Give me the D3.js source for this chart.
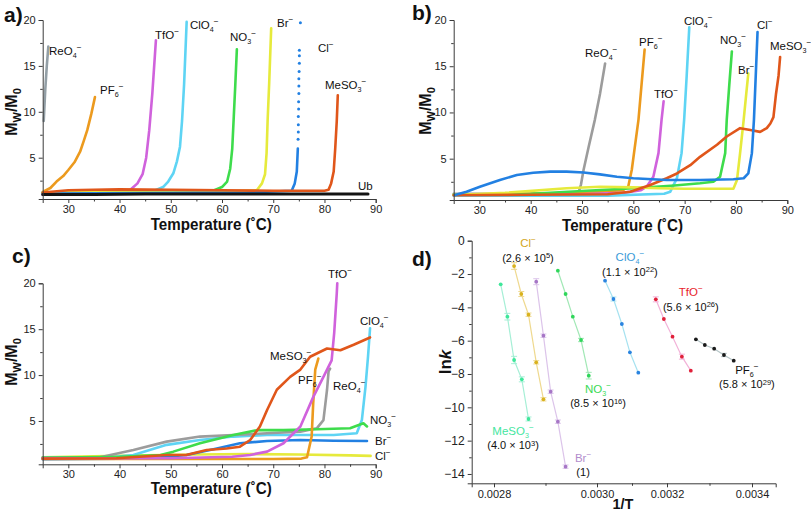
<!DOCTYPE html>
<html><head><meta charset="utf-8">
<script src="https://cdn.jsdelivr.net/npm/d3@7"></script>
<style>
body{margin:0;background:#fff}
text{font-family:"Liberation Sans",Arial,sans-serif}
</style>
</head><body><script>
// ---------- DATA ----------
const tempTicks = [30,40,50,60,70,80,90];
const tempMinor = [35,45,55,65,75,85];
const mwTicks = [5,10,15,20];
const mwMinor = [2.5,7.5,12.5,17.5];

// panel a : [T (°C), Mw/M0]
const a_ReO4 = [[25.2,9],[25.5,12.4],[25.8,15],[26.1,17.1]];
const a_PF6 = [[25.1,1.3],[26.5,1.7],[27.7,2.4],[29,3.0],[30,3.66],[31.2,4.5],[32.3,5.65],[33.0,6.8],[33.7,8.0],[34.5,9.8],[35.2,11.6]];
const a_TfO = [[25,1.0],[35,1.05],[40,1.15],[42,1.45],[43.5,2.2],[44.5,3.2],[45.2,5],[45.8,8],[46.4,12],[47.1,17.8]];
const a_ClO4 = [[25,1.2],[40,1.3],[47,1.45],[48.5,1.8],[49.5,2.4],[50.5,3.3],[51.2,4.6],[51.8,6.2],[52.2,9],[52.6,13],[53.1,19.8]];
const a_NO3 = [[25,1.2],[50,1.3],[58.5,1.45],[60,1.8],[61,2.4],[61.6,3.8],[62.0,6],[62.3,9.5],[62.6,13],[62.9,16.8]];
const a_Br = [[25,1.2],[60,1.3],[66.8,1.45],[67.8,2.2],[68.4,3.2],[68.7,5.5],[68.9,9],[69.2,13],[69.6,19.1]];
const a_Cl = [[25,1.1],[65,1.2],[73.6,1.4],[74.2,2.2],[74.6,3.5],[74.8,6]];
const a_ClDots = [[74.85,7],[74.9,7.8],[74.9,8.6],[74.9,9.5],[74.95,10.3],[74.95,11.1],[75.0,12],[75.0,12.8],[75.0,13.6],[75.05,14.4],[75.1,15.3],[75.1,16.1],[75.1,16.7],[75.3,19.7]];
const a_MeSO3 = [[25,1.2],[30,1.45],[35,1.5],[40,1.55],[50,1.5],[60,1.45],[70,1.4],[80,1.4],[80.8,1.5],[81.3,2.2],[81.8,3.5],[82.1,6],[82.4,9],[82.6,11.8]];
const a_Ub = [[25,1.0],[35,1.0],[45,1.05],[55,1.05],[65,1.05],[75,1.05],[85,1.05],[88.5,1.05]];

// panel b
const b_ReO4 = [[25,1.2],[45,1.2],[49.3,1.3],[49.8,2.2],[50.3,3.77],[51.3,6.3],[52.5,9.2],[53.5,12],[54.5,15.3]];
const b_PF6 = [[25,1.1],[50,1.3],[58,1.6],[59,1.97],[59.7,3.8],[60.3,6.3],[61,9.2],[61.6,13],[62.2,16.8]];
const b_TfO = [[25,1.05],[50,1.15],[58,1.3],[61.5,1.6],[62.6,1.97],[63.9,3.05],[64.9,5.6],[65.5,9.2],[65.9,11.2]];
const b_ClO4 = [[25,1.0],[55,1.0],[66,1.2],[67.2,1.43],[68.5,2.9],[69.4,5.6],[69.9,9.2],[70.4,14],[70.9,19.2]];
const b_NO3 = [[25,1.1],[40,1.2],[43.8,1.32],[50,1.5],[60,1.8],[68,2.1],[73,2.34],[75.6,2.5],[76.9,3.05],[77.9,5.6],[78.2,9.2],[78.7,13],[79.2,16.6]];
const b_Br = [[25,1.07],[35,1.3],[47,1.8],[53.5,1.97],[60,1.9],[65,1.8],[70,1.75],[79.5,1.75],[80.2,2.7],[80.8,5.6],[81.5,9.2],[82.0,12],[82.4,14.2]];
const b_Cl = [[25.25,1.07],[27.5,1.43],[30.1,1.97],[34,2.7],[37.3,3.23],[40.5,3.48],[43.8,3.6],[47,3.6],[50.3,3.5],[53.5,3.3],[56.8,3.05],[60,2.88],[66.5,2.7],[73,2.7],[79.5,2.77],[81.5,2.88],[82.4,3.4],[83.1,5.6],[83.5,9.2],[84.2,18.7]];
const b_MeSO3 = [[25,1.05],[40,1.1],[55,1.15],[59.4,1.43],[63.3,2.15],[66.5,2.88],[68.5,3.4],[71.1,4.3],[73,5.2],[76.3,6.5],[78.2,7.4],[80.8,8.3],[82.8,8.1],[84.7,7.9],[86,8.3],[86.7,8.8],[87.3,9.5],[87.8,12],[88.3,14],[88.6,16]];

// panel c
const c_Cl = [[25,1.05],[35,1.15],[45,1.25],[55,1.35],[65,1.4],[75,1.35],[85,1.25],[89,1.2]];
const c_Br = [[25,0.83],[40,0.9],[48,1.05],[53.1,1.3],[59,2.0],[63.5,2.57],[68.8,2.82],[75.3,2.93],[81.8,2.85],[88.3,2.82]];
const c_NO3 = [[25,1.0],[40,1.1],[48,1.3],[50.5,1.66],[55.7,2.57],[62.2,3.47],[66.8,4.0],[72,4.0],[78.5,4.1],[85,4.2],[87.6,4.75],[88.3,4.4]];
const c_ClO4 = [[25,1.0],[38,1.05],[42.7,1.3],[49.2,2.4],[55.7,2.93],[62.2,3.3],[68.8,3.47],[81.8,3.47],[86.3,3.66],[87.3,5.1],[88,8.7],[88.5,12],[88.9,15.1]];
const c_ReO4 = [[25,1.0],[36.2,1.05],[42.7,1.84],[49.2,2.75],[55.7,3.3],[62.2,3.47],[68.8,3.66],[75.3,3.84],[78.5,4.2],[79.8,5.1],[80.5,8.4],[80.8,10.4],[81.1,10.7]];
const c_PF6 = [[25,0.85],[50,0.85],[70,0.85],[75.5,0.9],[76.6,1.05],[77.5,3.3],[77.8,6.9],[78.2,10.6],[78.8,11.8]];
const c_TfO = [[25,0.94],[50,0.94],[62,1.1],[65.5,1.3],[68.8,1.66],[72,2.57],[75.3,4.4],[77.8,7.6],[79.8,9.8],[81.4,11.6],[81.9,14.6],[82.4,18.9],[82.5,20]];
const c_MeSO3 = [[25,0.9],[39.4,0.94],[49.2,1.3],[53,1.3],[57,1.84],[60.9,2.0],[63.5,2.2],[65.5,2.93],[67.4,4.4],[68.8,6.2],[70.7,8.4],[73.3,9.8],[75.3,10.6],[77.2,12],[80.5,12.9],[83.1,12.7],[85.7,13.3],[88.9,14.1]];

// panel d : 1/T and ln k
const invTTicks = [0.0028,0.0030,0.0032,0.0034];
const invTMinor = [0.0029,0.0031,0.0033];
const lnkTicks = [0,-2,-4,-6,-8,-10,-12,-14];
const lnkMinor = [-1,-3,-5,-7,-9,-11,-13];
const d_MeSO3_x = [0.002813,0.002826,0.002839,0.002854,0.002867];
const d_MeSO3_y = [-2.62,-4.56,-7.16,-8.32,-10.7];
const d_MeSO3_e = [0,0.2,0.22,0.15,0.12];
const d_Cl_x = [0.002839,0.002853,0.002867,0.002882,0.002896];
const d_Cl_y = [-1.52,-3.2,-4.44,-7.3,-9.52];
const d_Cl_e = [0.2,0.15,0.1,0.1,0.1];
const d_Br_x = [0.002882,0.002896,0.00291,0.002924,0.002939];
const d_Br_y = [-2.46,-5.7,-9.06,-10.86,-13.56];
const d_Br_e = [0.18,0.1,0.1,0.1,0.1];
const d_NO3_x = [0.002924,0.002939,0.002953,0.002969,0.002984];
const d_NO3_y = [-1.8,-3.2,-4.56,-5.96,-8.1];
const d_NO3_e = [0,0,0,0.1,0.2];
const d_ClO4_x = [0.003023,0.003047,0.003071,0.003094,0.003118];
const d_ClO4_y = [-2.4,-3.5,-5.0,-6.7,-7.92];
const d_ClO4_e = [0,0.12,0,0,0];
const d_TfO_x = [0.003168,0.003191,0.003213,0.003235,0.003256];
const d_TfO_y = [-3.52,-4.7,-5.76,-6.96,-7.8];
const d_TfO_e = [0.15,0,0,0.15,0];
const d_PF6_x = [0.003268,0.003289,0.003311,0.003334,0.003357];
const d_PF6_y = [-5.92,-6.26,-6.48,-6.86,-7.2];
const d_PF6_e = [0,0,0,0.1,0];

// ---------- STYLE ----------
const C = {ReO4:"#939fa6", PF6:"#ec9a1e", TfO:"#d062dc", ClO4:"#5ed4f4", NO3:"#3edc4c",
           Br:"#e6ea3c", Cl:"#2280e2", MeSO3:"#e0561a", Ub:"#141414"};
const W = 811, H = 512;
const svg = d3.select("body").append("svg").attr("width", W).attr("height", H);

function ion(g, x, y, base, sub, sup, color, size, anchor) {
  const t = g.append("text").attr("x", x).attr("y", y).attr("fill", color || "#111")
    .style("font-size", size + "px").attr("text-anchor", anchor || "start");
  t.append("tspan").text(base);
  if (sub) t.append("tspan").attr("dy", size * 0.28).style("font-size", (size * 0.62) + "px").text(sub);
  if (sup) t.append("tspan").attr("dy", sub ? -size * 0.72 : -size * 0.4).style("font-size", (size * 0.72) + "px").text(sup);
  return t;
}

function styleAxis(sel) {
  sel.selectAll("path,line").attr("stroke", "#3a3a3a").attr("stroke-width", 1);
  sel.selectAll("text").style("font-family", '"Liberation Sans",Arial,sans-serif').style("font-size", "11px").attr("fill", "#222");
}

function tempPanel(cfg) {
  const g = svg.append("g");
  const x = d3.scaleLinear().domain([25, 90]).range(cfg.xr);
  const y = d3.scaleLinear().domain(cfg.yd).range(cfg.yr);
  const line = d3.line().x(d => x(d[0])).y(d => y(d[1]));
  cfg.series.forEach(s => {
    g.append("path").datum(s.data).attr("d", line).attr("fill", "none")
      .attr("stroke", s.color).attr("stroke-width", s.w || 2.6)
      .attr("stroke-linejoin", "round").attr("stroke-linecap", "round");
  });
  if (cfg.dots) {
    g.selectAll("circle.dot").data(cfg.dots.data).join("circle")
      .attr("cx", d => x(d[0])).attr("cy", d => y(d[1])).attr("r", 1.5).attr("fill", cfg.dots.color);
  }
  const y0 = cfg.yr[0];
  const xa = g.append("g").attr("transform", `translate(0,${y0})`)
    .call(d3.axisBottom(x).tickValues(tempTicks).tickSize(4).tickPadding(2));
  styleAxis(xa);
  const xm = g.append("g").attr("transform", `translate(0,${y0})`)
    .call(d3.axisBottom(x).tickValues(tempMinor).tickSize(2.5).tickFormat(""));
  xm.select(".domain").remove(); styleAxis(xm);
  const ya = g.append("g").attr("transform", `translate(${cfg.xr[0]},0)`)
    .call(d3.axisLeft(y).tickValues(mwTicks).tickSize(4).tickPadding(3));
  styleAxis(ya);
  const ym = g.append("g").attr("transform", `translate(${cfg.xr[0]},0)`)
    .call(d3.axisLeft(y).tickValues(mwMinor).tickSize(2.5).tickFormat(""));
  ym.select(".domain").remove(); styleAxis(ym);
  const xc = (cfg.xr[0] + cfg.xr[1]) / 2 + 2;
  g.append("text").attr("x", xc).attr("y", cfg.xTitleY).attr("text-anchor", "middle")
    .style("font-size", "16.5px").style("font-weight", "bold").attr("fill", "#111")
    .attr("textLength", 121).attr("lengthAdjust", "spacingAndGlyphs").text("Temperature (\u02DAC)");
  const yt = g.append("text").attr("transform", `translate(${cfg.yTitleX},${cfg.yTitleY}) rotate(-90)`)
    .attr("text-anchor", "middle").style("font-size", "16px").style("font-weight", "bold").attr("fill", "#111");
  yt.append("tspan").text("M");
  yt.append("tspan").attr("dy", 4).style("font-size", "11px").text("W");
  yt.append("tspan").attr("dy", -4).text("/M");
  yt.append("tspan").attr("dy", 4).style("font-size", "11px").text("0");
  g.append("text").attr("x", cfg.letter[0]).attr("y", cfg.letter[1]).style("font-size", "21px")
    .style("font-weight", "bold").attr("fill", "#111").text(cfg.letter[2]);
  cfg.labels.forEach(l => ion(g, x(l.at[0]), y(l.at[1]), l.t[0], l.t[1], l.t[2], "#111", 11.5));
}

// ---------- PANEL a ----------
tempPanel({
  xr: [42.7, 375.7], yd: [0.5, 20], yr: [199, 20],
  xTitleY: 230, yTitleX: 17, yTitleY: 112, letter: [4, 22, "a)"],
  series: [
    {data: a_ReO4, color: C.ReO4}, {data: a_PF6, color: C.PF6}, {data: a_TfO, color: C.TfO},
    {data: a_ClO4, color: C.ClO4}, {data: a_NO3, color: C.NO3}, {data: a_Br, color: C.Br},
    {data: a_Cl, color: C.Cl}, {data: a_MeSO3, color: C.MeSO3}, {data: a_Ub, color: C.Ub, w: 3}
  ],
  dots: {data: a_ClDots, color: C.Cl},
  labels: [
    {t: ["ReO","4","\u2212"], at: [26.23, 16.19]}, {t: ["PF","6","\u2212"], at: [36.18, 11.94]},
    {t: ["TfO","","\u2212"], at: [46.92, 17.93]}, {t: ["ClO","4","\u2212"], at: [53.75, 19.02]},
    {t: ["NO","3","\u2212"], at: [61.56, 17.71]}, {t: ["Br","","\u2212"], at: [70.73, 19.24]},
    {t: ["Cl","","\u2212"], at: [78.73, 16.51]}, {t: ["MeSO","3","\u2212"], at: [80.1, 12.48]},
    {t: ["Ub","",""], at: [86.55, 1.48]}
  ]
});

// ---------- PANEL b ----------
tempPanel({
  xr: [453.7, 787.3], yd: [0.53, 20], yr: [200, 20],
  xTitleY: 231, yTitleX: 431, yTitleY: 111, letter: [412, 20, "b)"],
  series: [
    {data: b_ReO4, color: "#9c9c9c"}, {data: b_PF6, color: C.PF6}, {data: b_TfO, color: C.TfO},
    {data: b_ClO4, color: C.ClO4}, {data: b_NO3, color: C.NO3}, {data: b_Br, color: C.Br},
    {data: b_MeSO3, color: C.MeSO3}, {data: b_Cl, color: C.Cl}
  ],
  labels: [
    {t: ["ReO","4","\u2212"], at: [50.58, 16.0]}, {t: ["PF","6","\u2212"], at: [61.1, 17.19]},
    {t: ["TfO","","\u2212"], at: [64.02, 11.56]}, {t: ["ClO","4","\u2212"], at: [69.86, 19.46]},
    {t: ["NO","3","\u2212"], at: [76.88, 17.4]}, {t: ["Br","","\u2212"], at: [80.39, 14.16]},
    {t: ["Cl","","\u2212"], at: [84.09, 19.03]}, {t: ["MeSO","3","\u2212"], at: [86.62, 16.8]}
  ]
});

// ---------- PANEL c ----------
tempPanel({
  xr: [42.7, 375.7], yd: [0.28, 20], yr: [464.3, 283.3],
  xTitleY: 494, yTitleX: 17, yTitleY: 362, letter: [12, 263, "c)"],
  series: [
    {data: c_Cl, color: C.Br}, {data: c_ClO4, color: C.ClO4}, {data: c_ReO4, color: "#9c9c9c"},
    {data: c_NO3, color: C.NO3}, {data: c_Br, color: C.Cl}, {data: c_PF6, color: C.PF6},
    {data: c_TfO, color: C.TfO}, {data: c_MeSO3, color: C.MeSO3}
  ],
  labels: [
    {t: ["TfO","","\u2212"], at: [80.69, 20.57]}, {t: ["ClO","4","\u2212"], at: [86.94, 15.45]},
    {t: ["MeSO","3","\u2212"], at: [69.37, 11.64]}, {t: ["PF","6","\u2212"], at: [74.83, 9.03]},
    {t: ["ReO","4","\u2212"], at: [81.67, 8.37]}, {t: ["NO","3","\u2212"], at: [88.89, 4.67]},
    {t: ["Br","","\u2212"], at: [89.86, 2.38]}, {t: ["Cl","","\u2212"], at: [89.86, 0.75]}
  ]
});

// ---------- PANEL d ----------
(function () {
  const g = svg.append("g");
  const x = d3.scaleLinear().domain([0.002757, 0.0028, 0.0030, 0.0032, 0.0034, 0.003456])
    .range([471.7, 494, 597, 667, 752, 775.7]);
  const y = d3.scaleLinear().domain([-14.56, 0]).range([483.3, 240.7]);
  const series = [
    {x: d_MeSO3_x, y: d_MeSO3_y, e: d_MeSO3_e, line: "#a6efd6", pt: "#3ee79a", lab: ["MeSO","3","\u2212"], lc: "#45e6a0", k: ["4.0 \u00D7 10","3"], at: [0.002837, -11.66]},
    {x: d_Cl_x, y: d_Cl_y, e: d_Cl_e, line: "#efd98f", pt: "#d9b21e", lab: ["Cl","","\u2212"], lc: "#d2a51c", k: ["2.6 \u00D7 10","5"], at: [0.002866, -0.38]},
    {x: d_Br_x, y: d_Br_y, e: d_Br_e, line: "#dcc4ea", pt: "#a676c6", lab: ["Br","","\u2212"], lc: "#b28ccc", k: ["1",""], at: [0.002973, -13.28]},
    {x: d_NO3_x, y: d_NO3_y, e: d_NO3_e, line: "#a2e8b6", pt: "#2fd65a", lab: ["NO","3","\u2212"], lc: "#3ada55", k: ["8.5 \u00D7 10","16"], at: [0.003003, -9.13]},
    {x: d_ClO4_x, y: d_ClO4_y, e: d_ClO4_e, line: "#a6e2f0", pt: "#2a84e0", lab: ["ClO","4","\u2212"], lc: "#3a9ad8", k: ["1.1 \u00D7 10","22"], at: [0.003094, -1.22]},
    {x: d_TfO_x, y: d_TfO_y, e: d_TfO_e, line: "#f2b2d8", pt: "#e0203a", lab: ["TfO","","\u2212"], lc: "#e8242c", k: ["5.6 \u00D7 10","26"], at: [0.003256, -3.32]},
    {x: d_PF6_x, y: d_PF6_y, e: d_PF6_e, line: "#b6c6c8", pt: "#1a1a1a", lab: ["PF","6","\u2212"], lc: "#111", k: ["5.8 \u00D7 10","29"], at: [0.003388, -8.0]}
  ];
  const line = d3.line().x(d => x(d[0])).y(d => y(d[1]));
  series.forEach(s => {
    const pts = s.x.map((v, i) => [v, s.y[i], s.e[i]]);
    g.append("path").datum(pts).attr("d", line).attr("fill", "none").attr("stroke", s.line).attr("stroke-width", 1.2);
    pts.filter(p => p[2] > 0).forEach(p => {
      const px = x(p[0]);
      g.append("line").attr("x1", px).attr("x2", px).attr("y1", y(p[1] - p[2])).attr("y2", y(p[1] + p[2])).attr("stroke", s.line).attr("stroke-width", 1);
      [p[1] - p[2], p[1] + p[2]].forEach(v => g.append("line").attr("x1", px - 3).attr("x2", px + 3)
        .attr("y1", y(v)).attr("y2", y(v)).attr("stroke", s.line).attr("stroke-width", 1));
    });
    g.selectAll(null).data(pts).join("circle").attr("cx", d => x(d[0])).attr("cy", d => y(d[1]))
      .attr("r", 1.9).attr("fill", s.pt);
    const lx = x(s.at[0]), ly = y(s.at[1]);
    ion(g, lx, ly, s.lab[0], s.lab[1], s.lab[2], s.lc, 11.5, "middle");
    const kt = g.append("text").attr("x", lx).attr("y", ly + 14.5).attr("text-anchor", "middle")
      .style("font-size", "11px").attr("fill", "#111");
    kt.append("tspan").text("(" + s.k[0]);
    if (s.k[1]) kt.append("tspan").attr("dy", -3.5).style("font-size", "7.5px").text(s.k[1]);
    kt.append("tspan").attr("dy", s.k[1] ? 3.5 : 0).text(")");
  });
  const xa = g.append("g").attr("transform", "translate(0,483.3)")
    .call(d3.axisBottom(x).tickValues(invTTicks).tickSize(4).tickPadding(3).tickFormat(d3.format(".4f")));
  styleAxis(xa);
  const xm = g.append("g").attr("transform", "translate(0,483.3)")
    .call(d3.axisBottom(x).tickValues(invTMinor).tickSize(2.5).tickFormat(""));
  xm.select(".domain").remove(); styleAxis(xm);
  const ya = g.append("g").attr("transform", "translate(471.7,0)")
    .call(d3.axisLeft(y).tickValues(lnkTicks).tickSize(4).tickPadding(3));
  styleAxis(ya);
  ya.selectAll("text").style("font-size", "12px");
  const ym = g.append("g").attr("transform", "translate(471.7,0)")
    .call(d3.axisLeft(y).tickValues(lnkMinor).tickSize(2.5).tickFormat(""));
  ym.select(".domain").remove(); styleAxis(ym);
  g.append("text").attr("x", 623).attr("y", 509).attr("text-anchor", "middle")
    .style("font-size", "14.5px").style("font-weight", "bold").attr("fill", "#111").text("1/T");
  const yt = g.append("text").attr("transform", "translate(451,362) rotate(-90)")
    .attr("text-anchor", "middle").style("font-size", "17px").style("font-weight", "bold").attr("fill", "#111");
  yt.append("tspan").text("ln");
  yt.append("tspan").style("font-style", "italic").text("k");
  g.append("text").attr("x", 412).attr("y", 266).style("font-size", "21px")
    .style("font-weight", "bold").attr("fill", "#111").text("d)");
})();
</script></body></html>
